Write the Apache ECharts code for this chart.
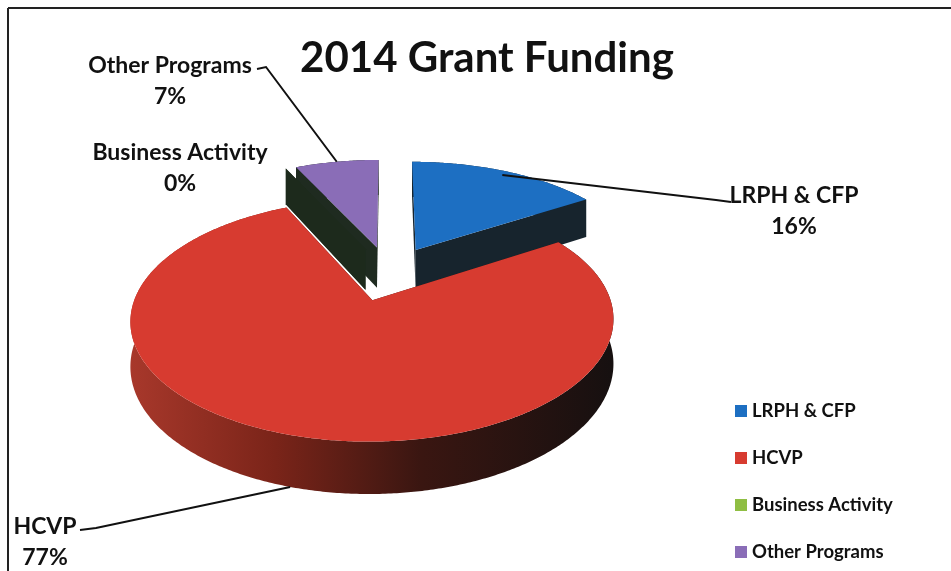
<!DOCTYPE html>
<html>
<head>
<meta charset="utf-8">
<script src="https://cdn.jsdelivr.net/npm/echarts@6/dist/echarts.min.js"></script>
<style>
  html, body { margin: 0; padding: 0; background: #ffffff; }
  #chart { width: 951px; height: 571px; }
</style>
</head>
<body>
<div id="chart"></div>
<script>
// ---- data ----
const chartTitle = '2014 Grant Funding';
const categories = ['LRPH & CFP', 'HCVP', 'Business Activity', 'Other Programs'];
const values = [16, 77, 0, 7];

// ---- styles ----
const topColors = ['#1d6fc2', '#d73b30', '#8fbe43', '#8a6db7'];
const sideColors = ['#17242d', '#3a1712', '#1d2a1c', '#1f2b20'];
const FONT = 'Lato, "Noto Sans", sans-serif';

// 3D view of the pie: centre, radii, thickness, perspective strength, explosion
const view = { cx: 389, cy: 273, rx: 229, ry: 109, depth: 42, k: 0.16, explode: 0.25 };

// label placement (text block centre + leader waypoints, anchor on the slice)
const labelLayout = [
  { x: 794, y: 211, lead: [[731, 202], [716, 200]], anchor: { r: 0.95, h: 0 } },
  { x: 45, y: 542, lead: [[80, 530], [96, 528]], anchor: { r: 1, h: 1 } },
  { x: 180, y: 168, lead: null },
  { x: 170, y: 81, lead: [[257, 69], [266, 67]], anchor: { r: 1, h: 0 } }
];

const total = values.reduce((a, b) => a + b, 0);

function project(u, v, h) {
  const w = 1 / (1 - view.k * v);
  return [view.cx + view.rx * u * w, view.cy + (view.ry * v + view.depth * h) * w];
}

function sliceAngles(i, value) {
  let start = 0;
  for (let j = 0; j < i; j++) start += values[j];
  const a0 = start / total * Math.PI * 2;
  const a1 = (start + value) / total * Math.PI * 2;
  return { a0, a1, mid: (a0 + a1) / 2 };
}

function slicePointFn(mid) {
  const ou = view.explode * Math.sin(mid);
  const ov = -view.explode * Math.cos(mid);
  return (a, r, h) => project(ou + r * Math.sin(a), ov - r * Math.cos(a), h);
}

function arcPoints(pt, a0, a1, h) {
  const n = Math.max(2, Math.ceil((a1 - a0) / 0.01));
  const pts = [];
  for (let s = 0; s <= n; s++) pts.push(pt(a0 + (a1 - a0) * s / n, 1, h));
  return pts;
}

// back-to-front rank of each slice
const ranks = (() => {
  const order = categories.map((c, i) => {
    const m = sliceAngles(i, values[i]).mid;
    return { i, v: -Math.cos(m) };
  }).sort((a, b) => a.v - b.v);
  const r = [];
  order.forEach((o, k) => { r[o.i] = k; });
  return r;
})();

function makeRenderItem(i) {
  return function (params, api) {
    const value = api.value(0);
    const { a0, a1, mid } = sliceAngles(i, value);
    const pt = slicePointFn(mid);
    const base = ranks[i] * 10;
    const children = [];

    const topArc = arcPoints(pt, a0, a1, 0);
    const botArc = arcPoints(pt, a0, a1, 1);

    // outer curved side
    let sideFill = sideColors[i];
    if (i === 1) {
      sideFill = new echarts.graphic.LinearGradient(0, 0, 1, 0, [
        { offset: 0, color: '#a8382b' },
        { offset: 0.3, color: '#7a2419' },
        { offset: 0.6, color: '#3a1611' },
        { offset: 1, color: '#161010' }
      ]);
    }
    children.push({
      type: 'polygon', z2: base,
      shape: { points: topArc.concat(botArc.slice().reverse()) },
      style: { fill: sideFill }
    });

    // radial walls
    [a0, a1].forEach(a => {
      children.push({
        type: 'polygon', z2: base + 1,
        shape: { points: [pt(a, 0, 0), pt(a, 1, 0), pt(a, 1, 1), pt(a, 0, 1)] },
        style: { fill: sideColors[i] }
      });
    });

    // top face
    if (value > 0) {
      children.push({
        type: 'polygon', z2: base + 2,
        shape: { points: [pt(0, 0, 0)].concat(topArc) },
        style: { fill: topColors[i] }
      });
    }

    // label + leader
    const lay = labelLayout[i];
    const pct = Math.round(value / total * 100) + '%';
    if (lay.lead) {
      const end = pt(mid, lay.anchor.r, lay.anchor.h);
      children.push({
        type: 'polyline', z2: 100,
        shape: { points: lay.lead.concat([end]) },
        style: { stroke: '#111', lineWidth: 2, fill: null }
      });
    }
    children.push({
      type: 'text', z2: 101,
      x: lay.x, y: lay.y,
      style: {
        text: categories[i] + '\n' + pct,
        align: 'center', verticalAlign: 'middle',
        font: 'bold 23px ' + FONT, lineHeight: 31, fill: '#111'
      }
    });

    return { type: 'group', children };
  };
}

const chart = echarts.init(document.getElementById('chart'), null, { renderer: 'canvas' });

chart.setOption({
  backgroundColor: '#ffffff',
  animation: false,
  legend: {
    data: categories,
    orient: 'vertical',
    left: 730, top: 394,
    icon: 'rect', itemWidth: 12, itemHeight: 12, itemGap: 23,
    selectedMode: false,
    textStyle: { fontFamily: FONT, fontWeight: 'bold', fontSize: 18.5, color: '#111', lineHeight: 24 }
  },
  graphic: [
    { type: 'line', shape: { x1: 8, y1: 8, x2: 951, y2: 8 }, style: { stroke: '#222', lineWidth: 2 } },
    { type: 'line', shape: { x1: 8, y1: 8, x2: 8, y2: 571 }, style: { stroke: '#222', lineWidth: 2 } },
    {
      type: 'text', x: 487, y: 58,
      style: { text: chartTitle, align: 'center', verticalAlign: 'middle', font: 'bold 42px ' + FONT, fill: '#111' }
    }
  ],
  series: categories.map((name, i) => ({
    type: 'custom',
    name,
    coordinateSystem: 'none',
    silent: true,
    itemStyle: { color: topColors[i] },
    data: [[values[i]]],
    renderItem: makeRenderItem(i)
  }))
});
</script>
</body>
</html>
